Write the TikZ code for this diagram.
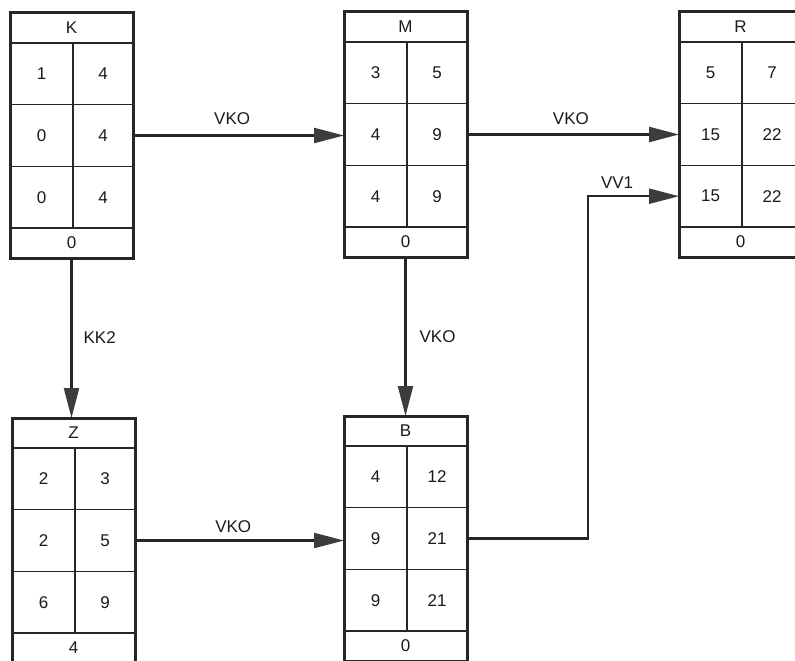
\documentclass[tikz,border=0pt]{standalone}
\usepackage{fontspec}
\setmainfont{Liberation Sans}
\usetikzlibrary{calc,arrows.meta}
\definecolor{linec}{HTML}{262626}
\definecolor{textc}{HTML}{1A1A1A}
\definecolor{tipc}{HTML}{3C3C3C}
\tikzset{
  box/.style={draw=linec, line width=3pt, minimum width=123pt, minimum height=245pt, anchor=north west, inner sep=0pt, outer sep=0pt},
  innerline/.style={draw=linec, line width=1.4pt},
  cell/.style={font=\fontsize{17pt}{19pt}\selectfont, text=textc, inner sep=0pt},
  conn/.style={draw=linec, line width=2.3pt, -{Triangle[length=30pt,width=15pt,color=tipc]}},
  lbl/.style={font=\fontsize{17pt}{19pt}\selectfont, text=textc, inner sep=0pt},
}
\newcommand\taskbox[5]{%
  \node[box] (#1) at (#2,#3) {};
  \draw[innerline] ($(#1.north west)+(0,30)$) -- ++(123,0);
  \draw[innerline] ($(#1.north west)+(0,91.7)$) -- ++(123,0);
  \draw[innerline] ($(#1.north west)+(0,153.3)$) -- ++(123,0);
  \draw[innerline] ($(#1.south west)+(0,-30)$) -- ++(123,0);
  \draw[innerline] ($(#1.north west)+(63,30)$) -- ($(#1.south west)+(63,-30)$);
  \node[cell] (#1-t) at ($(#1.north)+(0,15)$) {#4};
  \node[cell] (#1-f) at ($(#1.south)+(0,-15)$) {#5};
}
\newcommand\taskcells[7]{%
  \node[cell] (#1-11) at ($(#1.north west)+(31.5,60.85)$) {#2};
  \node[cell] (#1-12) at ($(#1.north west)+(93,60.85)$) {#3};
  \node[cell] (#1-21) at ($(#1.north west)+(31.5,122.5)$) {#4};
  \node[cell] (#1-22) at ($(#1.north west)+(93,122.5)$) {#5};
  \node[cell] (#1-31) at ($(#1.north west)+(31.5,184.2)$) {#6};
  \node[cell] (#1-32) at ($(#1.north west)+(93,184.2)$) {#7};
}
\begin{document}
\begin{tikzpicture}[x=1pt,y=-1pt]
\useasboundingbox (0,0) rectangle (795,661);
\fill[white] (0,0) rectangle (795,661);
\clip (0,0) rectangle (795,661);

\taskbox{K}{10}{13}{K}{0}
\taskcells{K}{1}{4}{0}{4}{0}{4}
\taskbox{M}{344}{12}{M}{0}
\taskcells{M}{3}{5}{4}{9}{4}{9}
\taskbox{R}{679}{12}{R}{0}
\taskcells{R}{5}{7}{15}{22}{15}{22}
\taskbox{Z}{12}{418}{Z}{4}
\taskcells{Z}{2}{3}{2}{5}{6}{9}
\taskbox{B}{344}{416}{B}{0}
\taskcells{B}{4}{12}{9}{21}{9}{21}

\draw[conn] (K.east) -- (K.east -| M.west)
  node[lbl, pos=0.47, above=10pt] (lKM) {VKO};
\draw[conn] (M.east) -- (M.east -| R.west)
  node[lbl, pos=0.49, above=9pt] (lMR) {VKO};
\draw[conn] (K.south) -- (K.south |- Z.north)
  node[lbl, midway, right=11pt] (lKZ) {KK2};
\draw[conn] (M.south) -- (M.south |- B.north)
  node[lbl, midway, right=13pt] (lMB) {VKO};
\draw[conn] (Z.east |- Z-21) -- (B.west |- Z-21)
  node[lbl, pos=0.47, above=7pt] (lZB) {VKO};
\path (588,0) coordinate (tx);
\coordinate (turn) at (tx |- R-31);
\draw[conn] (B.east |- B-21) -| (turn) -- (turn -| R.west)
  node[lbl, pos=0.32, above=7pt] (lBR) {VV1};
\end{tikzpicture}
\end{document}
